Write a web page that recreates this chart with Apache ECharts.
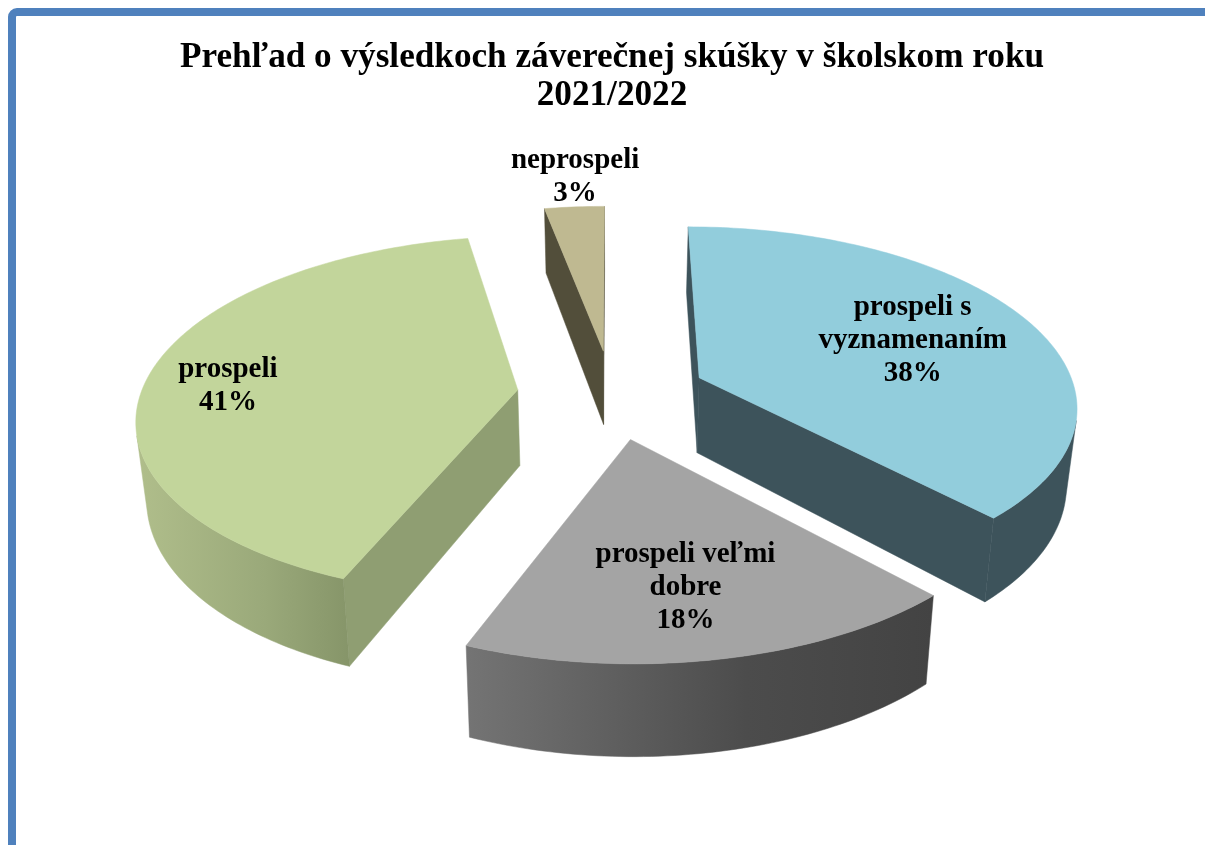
<!DOCTYPE html>
<html>
<head>
<meta charset="utf-8">
<style>html,body{margin:0;padding:0;background:#fff}#c{width:1205px;height:845px}</style>
<script src="https://cdn.jsdelivr.net/npm/echarts@6/dist/echarts.min.js"></script>
</head>
<body>
<div id="c"></div>
<script>
const titleText = 'Prehľad o výsledkoch záverečnej skúšky v školskom roku\n2021/2022';
const categories = ['prospeli s\nvyznamenaním', 'prospeli veľmi\ndobre', 'prospeli', 'neprospeli'];
const values = [38, 18, 41, 3];

const topColors = ['#92CDDC', '#A4A4A4', '#C2D59B', '#BFB991'];
const sideColors = ['#3D535B', '#444444', '#8F9E72', '#524E3A'];
const wallStops = [
  ['#3D535B', '#3D535B', '#3D535B'],
  ['#747474', '#4C4C4C', '#434343'],
  ['#B0BE8B', '#9AA97A', '#869569'],
  ['#524E3A', '#524E3A', '#524E3A']
];
const labelShift = [[15, 0], [5, 25], [-68, 6], [-10, -83]];

const view = { cx: 612, cy: 394, R: 377, explode: 95, depth: 76, tilt: 0.47, dist: 2600, taper: 0.0003 };
const total = values.reduce((a, b) => a + b, 0);

function project(wx, wf, z) {
  const s = view.dist / (view.dist - wf);
  return [view.cx + wx * s * (1 - view.taper * z), view.cy + (wf * view.tilt + z) * s];
}
function area(poly) {
  let a = 0;
  poly.forEach((p, i) => { const q = poly[(i + 1) % poly.length]; a += p[0] * q[1] - q[0] * p[1]; });
  return a;
}
function renderSlice(params, api) {
  const i = params.dataIndex;
  const before = values.slice(0, i).reduce((a, b) => a + b, 0);
  const t0 = before / total * 2 * Math.PI;
  const t1 = (before + api.value(0)) / total * 2 * Math.PI;
  const mid = (t0 + t1) / 2;
  const ex = view.explode * Math.sin(mid), ef = -view.explode * Math.cos(mid);
  const at = (t, r, z) => project(ex + r * Math.sin(t), ef - r * Math.cos(t), z);
  const n = Math.max(6, Math.round((t1 - t0) / (Math.PI / 180)));
  const tops = [], bots = [];
  for (let k = 0; k <= n; k++) {
    const t = t0 + (t1 - t0) * k / n;
    tops.push(at(t, view.R, 0));
    bots.push(at(t, view.R, view.depth));
  }
  const apexTop = at(0, 0, 0), apexBot = at(0, 0, view.depth);
  const children = [];
  const flat = (pts, fill) => children.push({
    type: 'polygon', shape: { points: pts },
    style: { fill: fill, stroke: fill, lineWidth: 0.5 }
  });
  [[apexTop, tops[0], bots[0], apexBot], [tops[n], apexTop, apexBot, bots[n]]].forEach(q => {
    if (area(q) < 0) flat(q, sideColors[i]);
  });
  let first = -1, last = -1;
  for (let k = 0; k < n; k++) {
    if (area([tops[k], tops[k + 1], bots[k + 1], bots[k]]) < 0) {
      if (first < 0) first = k;
      last = k + 1;
    }
  }
  if (first >= 0) {
    const pts = tops.slice(first, last + 1).concat(bots.slice(first, last + 1).reverse());
    const st = wallStops[i];
    flat(pts, new echarts.graphic.LinearGradient(0, 0, 1, 0, [
      { offset: 0, color: st[0] }, { offset: 0.6, color: st[1] }, { offset: 1, color: st[2] }
    ]));
  }
  flat([apexTop].concat(tops), topColors[i]);
  const lp = at(mid, view.R * 0.6, 0);
  children.push({
    type: 'text',
    style: {
      text: categories[i] + '\n' + api.value(0) + '%',
      x: lp[0] + labelShift[i][0], y: lp[1] + labelShift[i][1],
      align: 'center', verticalAlign: 'middle',
      font: 'bold 29px "Liberation Serif"', lineHeight: 33, fill: '#000'
    }
  });
  return { type: 'group', children: children };
}

const chart = echarts.init(document.getElementById('c'), null, { renderer: 'canvas' });
chart.setOption({
  animation: false,
  backgroundColor: '#fff',
  title: {
    text: titleText, left: 607, top: 34, textAlign: 'center',
    textStyle: { fontFamily: 'Liberation Serif', fontWeight: 'bold', fontSize: 35.2, lineHeight: 38, color: '#000' }
  },
  graphic: [{
    type: 'rect', silent: true, z: -1,
    shape: { x: 12, y: 12, width: 1400, height: 1000, r: 5 },
    style: { fill: '#fff', stroke: '#4F81BD', lineWidth: 8 }
  }],
  series: [{
    type: 'custom', coordinateSystem: 'none', renderItem: renderSlice,
    data: values.map(v => [v]), silent: true
  }]
});
</script>
</body>
</html>
